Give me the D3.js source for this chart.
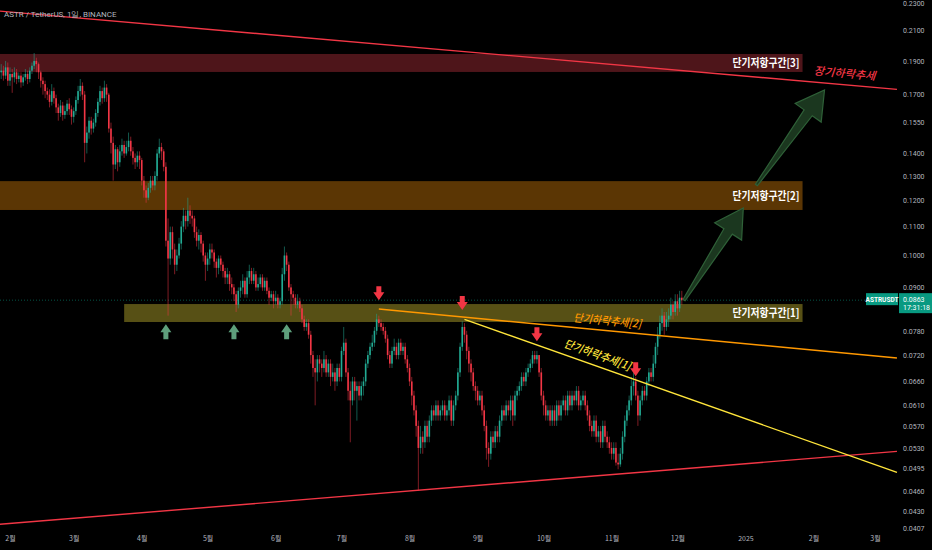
<!DOCTYPE html>
<meta charset="utf-8">
<script src="https://d3js.org/d3.v7.min.js"></script>
<style>
  body { margin: 0; background: #000; }
  svg { display: block; }
</style>
<div id="chart"></div>
<script>

// daily candles, ASTR/USDT, first candle on this day
var startDay = "2024-01-28";

var opens = [
  0.183, 0.184, 0.181, 0.186,
  // Feb
  0.178, 0.182, 0.180, 0.183, 0.179, 0.181, 0.177, 0.180, 0.182, 0.179, 0.184, 0.187, 0.190, 0.188, 0.183, 0.178, 0.176, 0.172, 0.170, 0.166, 0.172, 0.168, 0.163, 0.160, 0.164, 0.159, 0.161, 0.165, 0.162,
  // Mar
  0.158, 0.161, 0.167, 0.172, 0.175, 0.170, 0.145, 0.150, 0.156, 0.152, 0.155, 0.160, 0.166, 0.172, 0.168, 0.174, 0.170, 0.152, 0.145, 0.135, 0.142, 0.136, 0.141, 0.144, 0.140, 0.143, 0.146, 0.141, 0.138, 0.136, 0.139,
  // Apr
  0.137, 0.128, 0.124, 0.121, 0.125, 0.128, 0.126, 0.130, 0.140, 0.143, 0.141, 0.134, 0.105, 0.099, 0.108, 0.102, 0.097, 0.100, 0.104, 0.110, 0.114, 0.112, 0.116, 0.114, 0.113, 0.108, 0.105, 0.107, 0.104, 0.100,
  // May
  0.097, 0.099, 0.102, 0.101, 0.098, 0.096, 0.099, 0.097, 0.095, 0.093, 0.094, 0.091, 0.090, 0.088, 0.085, 0.089, 0.090, 0.092, 0.088, 0.093, 0.095, 0.092, 0.094, 0.090, 0.091, 0.093, 0.090, 0.092, 0.089, 0.087, 0.088,
  // Jun
  0.086, 0.087, 0.085, 0.086, 0.094, 0.100, 0.097, 0.090, 0.088, 0.087, 0.085, 0.086, 0.084, 0.081, 0.079, 0.080, 0.077, 0.072, 0.069, 0.068, 0.071, 0.070, 0.069, 0.071, 0.068, 0.070, 0.067, 0.068, 0.066, 0.069,
  // Jul
  0.067, 0.073, 0.075, 0.068, 0.064, 0.062, 0.066, 0.064, 0.065, 0.063, 0.065, 0.066, 0.070, 0.072, 0.074, 0.075, 0.078, 0.081, 0.080, 0.079, 0.078, 0.076, 0.072, 0.070, 0.073, 0.074, 0.072, 0.075, 0.073, 0.074, 0.071,
  // Aug
  0.069, 0.066, 0.063, 0.060, 0.057, 0.053, 0.055, 0.054, 0.057, 0.055, 0.058, 0.060, 0.059, 0.061, 0.059, 0.060, 0.061, 0.059, 0.060, 0.062, 0.058, 0.061, 0.063, 0.068, 0.074, 0.079, 0.077, 0.073, 0.070, 0.068, 0.065,
  // Sep
  0.064, 0.062, 0.063, 0.060, 0.057, 0.053, 0.052, 0.055, 0.054, 0.056, 0.055, 0.058, 0.060, 0.059, 0.061, 0.060, 0.062, 0.059, 0.063, 0.064, 0.065, 0.067, 0.066, 0.068, 0.069, 0.070, 0.072, 0.071, 0.072, 0.068,
  // Oct
  0.063, 0.061, 0.059, 0.060, 0.058, 0.060, 0.058, 0.061, 0.059, 0.061, 0.062, 0.060, 0.063, 0.061, 0.063, 0.062, 0.064, 0.061, 0.062, 0.063, 0.061, 0.059, 0.057, 0.056, 0.058, 0.055, 0.056, 0.054, 0.057, 0.055, 0.054,
  // Nov
  0.053, 0.052, 0.053, 0.0505, 0.0502, 0.052, 0.055, 0.058, 0.060, 0.062, 0.065, 0.066, 0.063, 0.059, 0.062, 0.064, 0.063, 0.066, 0.068, 0.067, 0.070, 0.074, 0.077, 0.080, 0.082, 0.079, 0.081, 0.082, 0.085, 0.083,
  // Dec
  0.086, 0.084, 0.087
];

var highs = [
  0.188, 0.187, 0.190, 0.189,
  0.186, 0.185, 0.186, 0.185, 0.183, 0.183, 0.182, 0.185, 0.184, 0.186, 0.189, 0.195, 0.192, 0.189, 0.184, 0.180, 0.178, 0.174, 0.173, 0.176, 0.174, 0.170, 0.165, 0.167, 0.166, 0.164, 0.167, 0.168, 0.164,
  0.163, 0.169, 0.175, 0.179, 0.177, 0.172, 0.153, 0.158, 0.158, 0.157, 0.162, 0.168, 0.175, 0.174, 0.178, 0.176, 0.171, 0.155, 0.148, 0.144, 0.143, 0.144, 0.147, 0.146, 0.146, 0.150, 0.148, 0.143, 0.140, 0.141, 0.141,
  0.138, 0.130, 0.126, 0.127, 0.130, 0.130, 0.132, 0.142, 0.147, 0.145, 0.142, 0.136, 0.113, 0.110, 0.110, 0.104, 0.102, 0.106, 0.112, 0.117, 0.116, 0.121, 0.118, 0.116, 0.114, 0.110, 0.109, 0.108, 0.105, 0.101,
  0.101, 0.104, 0.104, 0.102, 0.099, 0.100, 0.100, 0.098, 0.096, 0.096, 0.095, 0.093, 0.091, 0.089, 0.090, 0.092, 0.094, 0.093, 0.095, 0.097, 0.096, 0.096, 0.095, 0.093, 0.094, 0.094, 0.093, 0.093, 0.090, 0.089, 0.089,
  0.089, 0.088, 0.087, 0.096, 0.103, 0.101, 0.098, 0.091, 0.089, 0.088, 0.088, 0.087, 0.085, 0.082, 0.081, 0.081, 0.078, 0.073, 0.071, 0.072, 0.072, 0.071, 0.073, 0.072, 0.071, 0.071, 0.070, 0.069, 0.070, 0.070,
  0.074, 0.079, 0.076, 0.069, 0.066, 0.067, 0.067, 0.066, 0.066, 0.066, 0.067, 0.071, 0.073, 0.075, 0.077, 0.079, 0.0825, 0.082, 0.081, 0.080, 0.079, 0.077, 0.073, 0.074, 0.076, 0.075, 0.076, 0.076, 0.075, 0.075, 0.072,
  0.070, 0.067, 0.064, 0.061, 0.058, 0.057, 0.056, 0.058, 0.058, 0.059, 0.061, 0.061, 0.062, 0.062, 0.061, 0.062, 0.062, 0.061, 0.063, 0.063, 0.062, 0.064, 0.069, 0.075, 0.0805, 0.080, 0.078, 0.074, 0.071, 0.069, 0.066,
  0.065, 0.064, 0.064, 0.061, 0.058, 0.054, 0.056, 0.056, 0.057, 0.057, 0.059, 0.061, 0.061, 0.062, 0.062, 0.063, 0.063, 0.064, 0.065, 0.066, 0.068, 0.068, 0.069, 0.070, 0.071, 0.073, 0.073, 0.073, 0.072, 0.069,
  0.064, 0.062, 0.061, 0.061, 0.061, 0.061, 0.062, 0.062, 0.062, 0.063, 0.063, 0.064, 0.064, 0.064, 0.064, 0.065, 0.065, 0.063, 0.064, 0.064, 0.062, 0.060, 0.058, 0.059, 0.059, 0.057, 0.057, 0.058, 0.058, 0.056, 0.055,
  0.054, 0.054, 0.054, 0.052, 0.053, 0.056, 0.059, 0.061, 0.063, 0.067, 0.068, 0.067, 0.064, 0.063, 0.065, 0.065, 0.067, 0.069, 0.069, 0.072, 0.075, 0.079, 0.082, 0.084, 0.083, 0.083, 0.084, 0.087, 0.086, 0.088,
  0.088, 0.089, 0.089
];

var lows = [
  0.179, 0.178, 0.179, 0.175,
  0.175, 0.171, 0.177, 0.176, 0.177, 0.174, 0.175, 0.178, 0.176, 0.177, 0.182, 0.185, 0.183, 0.179, 0.174, 0.170, 0.168, 0.167, 0.163, 0.164, 0.165, 0.160, 0.156, 0.158, 0.156, 0.157, 0.159, 0.159, 0.154,
  0.155, 0.159, 0.165, 0.169, 0.167, 0.136, 0.140, 0.147, 0.149, 0.150, 0.153, 0.158, 0.164, 0.165, 0.166, 0.166, 0.150, 0.140, 0.128, 0.133, 0.132, 0.134, 0.139, 0.138, 0.139, 0.141, 0.139, 0.135, 0.133, 0.134, 0.133,
  0.126, 0.121, 0.119, 0.120, 0.123, 0.124, 0.124, 0.128, 0.138, 0.137, 0.132, 0.103, 0.082, 0.097, 0.099, 0.094, 0.095, 0.099, 0.102, 0.108, 0.109, 0.110, 0.111, 0.110, 0.106, 0.103, 0.102, 0.101, 0.098, 0.092,
  0.095, 0.097, 0.099, 0.096, 0.093, 0.094, 0.095, 0.093, 0.091, 0.091, 0.089, 0.088, 0.086, 0.083, 0.084, 0.087, 0.088, 0.087, 0.087, 0.091, 0.091, 0.091, 0.089, 0.089, 0.090, 0.089, 0.089, 0.088, 0.085, 0.086, 0.084,
  0.085, 0.084, 0.084, 0.085, 0.092, 0.095, 0.089, 0.082, 0.085, 0.084, 0.084, 0.083, 0.080, 0.078, 0.078, 0.076, 0.070, 0.067, 0.061, 0.066, 0.068, 0.067, 0.068, 0.067, 0.067, 0.065, 0.066, 0.064, 0.065, 0.066,
  0.066, 0.072, 0.067, 0.062, 0.054, 0.061, 0.062, 0.058, 0.062, 0.062, 0.063, 0.065, 0.069, 0.071, 0.073, 0.074, 0.077, 0.079, 0.078, 0.077, 0.075, 0.071, 0.069, 0.069, 0.072, 0.071, 0.071, 0.072, 0.072, 0.070, 0.068,
  0.065, 0.061, 0.059, 0.055, 0.046, 0.052, 0.052, 0.053, 0.054, 0.054, 0.057, 0.058, 0.058, 0.058, 0.058, 0.059, 0.058, 0.058, 0.059, 0.057, 0.057, 0.060, 0.062, 0.067, 0.073, 0.075, 0.071, 0.068, 0.066, 0.064, 0.062,
  0.061, 0.061, 0.059, 0.056, 0.051, 0.0498, 0.051, 0.053, 0.053, 0.054, 0.054, 0.057, 0.058, 0.058, 0.059, 0.058, 0.057, 0.058, 0.062, 0.063, 0.064, 0.065, 0.065, 0.067, 0.068, 0.069, 0.070, 0.070, 0.067, 0.062,
  0.059, 0.058, 0.058, 0.057, 0.057, 0.057, 0.057, 0.058, 0.058, 0.060, 0.059, 0.059, 0.060, 0.060, 0.061, 0.061, 0.060, 0.060, 0.061, 0.060, 0.058, 0.056, 0.055, 0.055, 0.054, 0.054, 0.053, 0.053, 0.054, 0.053, 0.052,
  0.051, 0.051, 0.050, 0.0494, 0.0498, 0.051, 0.054, 0.057, 0.059, 0.061, 0.063, 0.062, 0.057, 0.058, 0.061, 0.062, 0.062, 0.065, 0.066, 0.066, 0.069, 0.072, 0.076, 0.078, 0.077, 0.078, 0.079, 0.081, 0.081, 0.082,
  0.082, 0.083, 0.085
];

var closes = [
  0.184, 0.181, 0.186, 0.178,
  0.182, 0.180, 0.183, 0.179, 0.181, 0.177, 0.180, 0.182, 0.179, 0.184, 0.187, 0.190, 0.188, 0.183, 0.178, 0.176, 0.172, 0.170, 0.166, 0.172, 0.168, 0.163, 0.160, 0.164, 0.159, 0.161, 0.165, 0.162, 0.158,
  0.161, 0.167, 0.172, 0.175, 0.170, 0.145, 0.150, 0.156, 0.152, 0.155, 0.160, 0.166, 0.172, 0.168, 0.174, 0.170, 0.152, 0.145, 0.135, 0.142, 0.136, 0.141, 0.144, 0.140, 0.143, 0.146, 0.141, 0.138, 0.136, 0.139, 0.137,
  0.128, 0.124, 0.121, 0.125, 0.128, 0.126, 0.130, 0.140, 0.143, 0.141, 0.134, 0.105, 0.099, 0.108, 0.102, 0.097, 0.100, 0.104, 0.110, 0.114, 0.112, 0.116, 0.114, 0.113, 0.108, 0.105, 0.107, 0.104, 0.100, 0.097,
  0.099, 0.102, 0.101, 0.098, 0.096, 0.099, 0.097, 0.095, 0.093, 0.094, 0.091, 0.090, 0.088, 0.085, 0.089, 0.090, 0.092, 0.088, 0.093, 0.095, 0.092, 0.094, 0.090, 0.091, 0.093, 0.090, 0.092, 0.089, 0.087, 0.088, 0.086,
  0.087, 0.085, 0.086, 0.094, 0.100, 0.097, 0.090, 0.088, 0.087, 0.085, 0.086, 0.084, 0.081, 0.079, 0.080, 0.077, 0.072, 0.069, 0.068, 0.071, 0.070, 0.069, 0.071, 0.068, 0.070, 0.067, 0.068, 0.066, 0.069, 0.067,
  0.073, 0.075, 0.068, 0.064, 0.062, 0.066, 0.064, 0.065, 0.063, 0.065, 0.066, 0.070, 0.072, 0.074, 0.075, 0.078, 0.081, 0.080, 0.079, 0.078, 0.076, 0.072, 0.070, 0.073, 0.074, 0.072, 0.075, 0.073, 0.074, 0.071, 0.069,
  0.066, 0.063, 0.060, 0.057, 0.053, 0.055, 0.054, 0.057, 0.055, 0.058, 0.060, 0.059, 0.061, 0.059, 0.060, 0.061, 0.059, 0.060, 0.062, 0.058, 0.061, 0.063, 0.068, 0.074, 0.079, 0.077, 0.073, 0.070, 0.068, 0.065, 0.064,
  0.062, 0.063, 0.060, 0.057, 0.053, 0.052, 0.055, 0.054, 0.056, 0.055, 0.058, 0.060, 0.059, 0.061, 0.060, 0.062, 0.059, 0.063, 0.064, 0.065, 0.067, 0.066, 0.068, 0.069, 0.070, 0.072, 0.071, 0.072, 0.068, 0.063,
  0.061, 0.059, 0.060, 0.058, 0.060, 0.058, 0.061, 0.059, 0.061, 0.062, 0.060, 0.063, 0.061, 0.063, 0.062, 0.064, 0.061, 0.062, 0.063, 0.061, 0.059, 0.057, 0.056, 0.058, 0.055, 0.056, 0.054, 0.057, 0.055, 0.054, 0.053,
  0.052, 0.053, 0.0505, 0.0502, 0.052, 0.055, 0.058, 0.060, 0.062, 0.065, 0.066, 0.063, 0.059, 0.062, 0.064, 0.063, 0.066, 0.068, 0.067, 0.070, 0.074, 0.077, 0.080, 0.082, 0.079, 0.081, 0.082, 0.085, 0.083, 0.086,
  0.084, 0.087, 0.0863
];

var lastPrice = 0.0863;
var countdown = "17:31:18";

// axis ticks
var priceTicks = [0.23, 0.21, 0.19, 0.17, 0.155, 0.14, 0.13, 0.12, 0.11, 0.10, 0.09, 0.078, 0.072, 0.066, 0.061, 0.057, 0.053, 0.0495, 0.046, 0.043, 0.0407];
var monthDays = ["2024-02-01", "2024-03-01", "2024-04-01", "2024-05-01", "2024-06-01", "2024-07-01", "2024-08-01",
                 "2024-09-01", "2024-10-01", "2024-11-01", "2024-12-01", "2025-01-01", "2025-02-01", "2025-03-01"];
var monthLabels = ["2월", "3월", "4월", "5월", "6월", "7월", "8월", "9월", "10월", "11월", "12월", "2025", "2월", "3월"];

// resistance zones
var zoneNames  = ["단기저항구간[3]", "단기저항구간[2]", "단기저항구간[1]"];
var zoneTop    = [0.1944, 0.1278, 0.0852];
var zoneBottom = [0.1832, 0.1162, 0.0803];
var zoneStart  = ["2024-01-20", "2024-01-20", "2024-03-24"];
var zoneEnd    = ["2025-01-27", "2025-01-27", "2025-01-27"];

// trend lines: [start day, start price, end day, end price]
var trendNames = ["장기하락추세", "", "단기하락추세[2]", "단기하락추세[1]"];
var trendLines = [
  ["2024-01-27", 0.224, "2025-03-11", 0.173],
  ["2024-01-27", 0.0412, "2025-03-11", 0.0524],
  ["2024-07-18", 0.0838, "2025-03-11", 0.0713],
  ["2024-08-26", 0.0810, "2025-03-11", 0.0489]
];
// where each trend label sits: [day, price]
var trendLabelAt = [["2025-02-15", 0.180], null, ["2024-10-30", 0.0796], ["2024-10-25", 0.0712]];

// signal arrows
var sellDays   = ["2024-07-18", "2024-08-25", "2024-09-28", "2024-11-12"];
var sellPrices = [0.0883, 0.0855, 0.0771, 0.0687];
var buyDays    = ["2024-04-12", "2024-05-13", "2024-06-06"];
var buyPrices  = [0.0779, 0.0779, 0.0779];

// projected path: [from day, from price, to day, to price]
var projection = [
  ["2024-12-04", 0.0863, "2024-12-31", 0.117],
  ["2025-01-06", 0.1262, "2025-02-06", 0.1726]
];

var W = 932, H = 550, plotRight = 898, plotBottom = 531;
var parse = d3.timeParse("%Y-%m-%d");

var svg = d3.select("#chart").append("svg")
  .attr("width", W).attr("height", H)
  .style("background", "#000");

var x = d3.scaleTime()
  .domain([parse("2024-02-01"), parse("2025-03-01")])
  .range([10, 875]);

var y = d3.scaleLog()
  .domain([0.0407, 0.23])
  .range([528, 3]);

svg.append("clipPath").attr("id", "plot")
  .append("rect").attr("x", 0).attr("y", 0).attr("width", plotRight).attr("height", plotBottom);

var plot = svg.append("g").attr("clip-path", "url(#plot)");

// zones
var zoneFill = ["#4e151a", "#5b3604", "#575015"];
var zoneText = [];
zoneNames.forEach(function(name, i) {
  var x0 = x(parse(zoneStart[i])), x1 = x(parse(zoneEnd[i]));
  var y0 = y(zoneTop[i]), y1 = y(zoneBottom[i]);
  plot.append("rect")
    .attr("x", x0).attr("y", y0)
    .attr("width", x1 - x0).attr("height", y1 - y0)
    .attr("fill", zoneFill[i]);
  zoneText.push({name: name, x: x1 - 3, y: (y0 + y1) / 2});
});

// current price line
plot.append("line")
  .attr("x1", 0).attr("x2", plotRight)
  .attr("y1", y(lastPrice)).attr("y2", y(lastPrice))
  .attr("stroke", "#089981").attr("stroke-opacity", 0.55)
  .attr("stroke-dasharray", "1,2");

// candles
var candles = closes.map(function(c, i) {
  return {date: d3.timeDay.offset(parse(startDay), i), o: opens[i], h: highs[i], l: lows[i], c: c};
});
var upCol = "#22ab94", downCol = "#f23645";

var cg = plot.append("g");
cg.selectAll(".wick")
  .data(candles)
  .enter()
  .append("line")
    .attr("class", "wick")
    .attr("x1", function(d) { return x(d.date); })
    .attr("x2", function(d) { return x(d.date); })
    .attr("y1", function(d) { return y(d.h); })
    .attr("y2", function(d) { return y(d.l); })
    .attr("stroke", function(d) { return d.c >= d.o ? upCol : downCol; })
    .attr("stroke-width", 0.7)
    .attr("stroke-opacity", 0.75);

cg.selectAll(".body")
  .data(candles)
  .enter()
  .append("rect")
    .attr("class", "body")
    .attr("x", function(d) { return x(d.date) - 0.8; })
    .attr("width", 1.6)
    .attr("y", function(d) { return y(Math.max(d.o, d.c)); })
    .attr("height", function(d) { return Math.max(0.8, Math.abs(y(d.o) - y(d.c))); })
    .attr("fill", function(d) { return d.c >= d.o ? upCol : downCol; });

// trend lines
var trendCol = ["#f23645", "#f23645", "#ff9800", "#ffe53b"];
trendLines.forEach(function(t, i) {
  plot.append("line")
    .attr("x1", x(parse(t[0]))).attr("y1", y(t[1]))
    .attr("x2", x(parse(t[2]))).attr("y2", y(t[3]))
    .attr("stroke", trendCol[i]).attr("stroke-width", 1.4);
});

// projected path arrows
function bigArrow(p0, p1) {
  var dx = p1[0] - p0[0], dy = p1[1] - p0[1];
  var len = Math.sqrt(dx * dx + dy * dy);
  var ux = dx / len, uy = dy / len, nx = -uy, ny = ux;
  var headLen = 28, headHalf = 16, neckHalf = 5, tailHalf = 1.2;
  var bx = p1[0] - ux * headLen, by = p1[1] - uy * headLen;
  var pts = [
    [p0[0] + nx * tailHalf, p0[1] + ny * tailHalf],
    [bx + nx * neckHalf, by + ny * neckHalf],
    [bx + nx * headHalf, by + ny * headHalf],
    p1,
    [bx - nx * headHalf, by - ny * headHalf],
    [bx - nx * neckHalf, by - ny * neckHalf],
    [p0[0] - nx * tailHalf, p0[1] - ny * tailHalf]
  ];
  return "M" + pts.map(function(p) { return p[0] + "," + p[1]; }).join("L") + "Z";
}
projection.forEach(function(p) {
  svg.append("path")
    .attr("d", bigArrow([x(parse(p[0])), y(p[1])], [x(parse(p[2])), y(p[3])]))
    .attr("fill", "#1c3a21").attr("fill-opacity", 0.95)
    .attr("stroke", "#2f6138").attr("stroke-width", 1.2);
});

// small signal arrows
function downArrow(cx, cy) {
  return "M" + (cx - 2.5) + "," + (cy - 7) + "L" + (cx + 2.5) + "," + (cy - 7) +
         "L" + (cx + 2.5) + "," + (cy - 1) + "L" + (cx + 5.5) + "," + (cy - 1) +
         "L" + cx + "," + (cy + 7) + "L" + (cx - 5.5) + "," + (cy - 1) +
         "L" + (cx - 2.5) + "," + (cy - 1) + "Z";
}
function upArrow(cx, cy) {
  return "M" + (cx - 2.5) + "," + (cy + 8) + "L" + (cx + 2.5) + "," + (cy + 8) +
         "L" + (cx + 2.5) + "," + (cy + 1) + "L" + (cx + 5.5) + "," + (cy + 1) +
         "L" + cx + "," + (cy - 7) + "L" + (cx - 5.5) + "," + (cy + 1) +
         "L" + (cx - 2.5) + "," + (cy + 1) + "Z";
}
sellDays.forEach(function(d, i) {
  plot.append("path").attr("d", downArrow(x(parse(d)), y(sellPrices[i]))).attr("fill", "#f23645");
});
buyDays.forEach(function(d, i) {
  plot.append("path").attr("d", upArrow(x(parse(d)), y(buyPrices[i]))).attr("fill", "#5e9f7c");
});

// zone labels
zoneText.forEach(function(z) {
  svg.append("text")
    .attr("x", z.x).attr("y", z.y + 4)
    .attr("text-anchor", "end")
    .attr("font-family", "'Noto Sans CJK KR', sans-serif")
    .attr("font-size", 11).attr("font-weight", "bold")
    .attr("textLength", 67).attr("lengthAdjust", "spacingAndGlyphs")
    .attr("fill", "#ffffff")
    .text(z.name);
});

// trend line labels
var trendLabelLen = [62, 0, 68, 70];
trendNames.forEach(function(name, i) {
  if (!name) return;
  var t = trendLines[i];
  var ang = Math.atan2(y(t[3]) - y(t[1]), x(parse(t[2])) - x(parse(t[0]))) * 180 / Math.PI;
  var px = x(parse(trendLabelAt[i][0])), py = y(trendLabelAt[i][1]);
  svg.append("text")
    .attr("transform", "translate(" + px + "," + py + ") rotate(" + ang + ")")
    .attr("text-anchor", "middle")
    .attr("font-family", "'Noto Sans CJK KR', sans-serif")
    .attr("font-size", 11).attr("font-style", "italic").attr("font-weight", 500)
    .attr("textLength", trendLabelLen[i]).attr("lengthAdjust", "spacingAndGlyphs")
    .attr("fill", trendCol[i])
    .text(name);
});

// title
svg.append("text")
  .attr("x", 4).attr("y", 17)
  .attr("font-family", "Roboto, sans-serif")
  .attr("font-size", 8)
  .attr("fill", "#b2b5be")
  .text("ASTR / TetherUS, 1일, BINANCE");

// right price axis
var yAxis = svg.append("g")
  .attr("transform", "translate(900,0)")
  .call(d3.axisRight(y).tickValues(priceTicks).tickFormat(d3.format(".4f")).tickSize(0).tickPadding(3));
yAxis.select(".domain").remove();
yAxis.selectAll("text")
  .attr("fill", "#b2b5be")
  .attr("font-family", "Roboto, sans-serif")
  .attr("font-size", 7);

// bottom time axis
var xAxis = svg.append("g")
  .attr("transform", "translate(0,534)")
  .call(d3.axisBottom(x).tickValues(monthDays.map(parse)).tickFormat(function(d, i) { return monthLabels[i]; }).tickSize(0).tickPadding(2));
xAxis.select(".domain").remove();
xAxis.selectAll("text")
  .attr("fill", "#b2b5be")
  .attr("font-family", "'Noto Sans CJK KR', Roboto, sans-serif")
  .attr("font-size", 7);

// last price labels
var ly = y(lastPrice);
svg.append("rect").attr("x", 866).attr("y", ly - 7).attr("width", 32).attr("height", 12).attr("fill", "#089981");
svg.append("text").attr("x", 882).attr("y", ly + 2).attr("text-anchor", "middle")
  .attr("font-family", "Roboto, sans-serif").attr("font-size", 6.5).attr("font-weight", "bold")
  .attr("fill", "#fff").text("ASTRUSDT");
svg.append("rect").attr("x", 899).attr("y", ly - 7).attr("width", 33).attr("height", 20).attr("fill", "#089981");
svg.append("text").attr("x", 903).attr("y", ly + 2)
  .attr("font-family", "Roboto, sans-serif").attr("font-size", 7)
  .attr("fill", "#fff").text(d3.format(".4f")(lastPrice));
svg.append("text").attr("x", 903).attr("y", ly + 10)
  .attr("font-family", "Roboto, sans-serif").attr("font-size", 7)
  .attr("fill", "#fff").text(countdown);

</script>
